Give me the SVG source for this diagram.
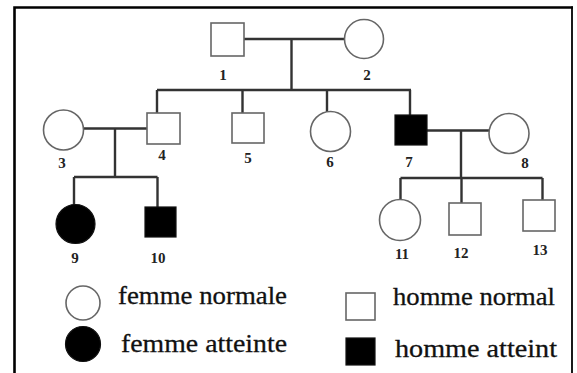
<svg xmlns="http://www.w3.org/2000/svg" width="577" height="373" viewBox="0 0 577 373">
<style>
.frame{stroke:#000;fill:none}
.sh{fill:#fff;stroke:#666;stroke-width:1.6}
.aff{fill:#000;stroke:#111;stroke-width:1.2}
.ln{stroke:#333;stroke-width:2.4;fill:none}
.lb{font-family:"Liberation Serif",serif;font-weight:bold;font-size:15px;fill:#222;text-anchor:middle}
.lg{font-family:"Liberation Serif",serif;font-size:26px;fill:#111;stroke:#111;stroke-width:0.3}
</style>
<rect width="577" height="373" fill="#fff"/>
<g id="frame">
<path class="frame" d="M14.5 373V7.5H573" stroke-width="2.6"/>
<path class="frame" d="M572 6.5V373" stroke-width="1.8"/>
</g>
<g id="connectors">
<path class="ln" d="M244 39H344M291.5 39V90M157 90H411M157 90V113M242.5 90V113M327 90V112M410 90V115"/>
<path class="ln" d="M83 128.5H147M115 128.5V177M74 177H157.5M74 177V205M157.5 177V207"/>
<path class="ln" d="M427 130.5H489M461 130.5V178M400.5 178H542.5M400.5 178V200M461.5 178V203M542.5 178V200"/>
</g>
<g id="n1"><rect class="sh" x="211" y="23" width="33" height="33"/><text class="lb" x="223" y="80">1</text></g>
<g id="n2"><circle class="sh" cx="364" cy="39" r="19.5"/><text class="lb" x="367" y="80">2</text></g>
<g id="n3"><circle class="sh" cx="63.5" cy="130" r="20"/><text class="lb" x="62" y="168">3</text></g>
<g id="n4"><rect class="sh" x="147" y="113" width="33" height="31"/><text class="lb" x="162" y="160">4</text></g>
<g id="n5"><rect class="sh" x="232" y="113" width="32" height="30"/><text class="lb" x="248" y="163">5</text></g>
<g id="n6"><circle class="sh" cx="330.5" cy="131.5" r="20"/><text class="lb" x="330" y="167">6</text></g>
<g id="n7"><rect class="aff" x="395" y="115" width="32" height="30"/><text class="lb" x="409" y="167">7</text></g>
<g id="n8"><circle class="sh" cx="509" cy="133.5" r="20"/><text class="lb" x="525" y="168">8</text></g>
<g id="n9"><circle class="aff" cx="75.5" cy="224" r="19.5"/><text class="lb" x="75" y="263">9</text></g>
<g id="n10"><rect class="aff" x="145" y="207" width="31" height="30"/><text class="lb" x="158" y="263">10</text></g>
<g id="n11"><circle class="sh" cx="400" cy="220" r="20.5"/><text class="lb" x="402" y="259">11</text></g>
<g id="n12"><rect class="sh" x="449" y="203" width="32" height="32"/><text class="lb" x="461" y="258">12</text></g>
<g id="n13"><rect class="sh" x="523" y="200" width="32" height="31"/><text class="lb" x="540" y="255">13</text></g>
<g id="legend">
<circle class="sh" cx="83" cy="303" r="17" stroke-width="2.4" stroke="#555"/>
<text class="lg" x="118" y="304" textLength="169" lengthAdjust="spacingAndGlyphs">femme normale</text>
<circle class="aff" cx="83" cy="344" r="17.5"/>
<text class="lg" x="121" y="352" textLength="166" lengthAdjust="spacingAndGlyphs">femme atteinte</text>
<rect class="sh" x="346" y="293" width="29" height="27"/>
<text class="lg" x="393" y="305" textLength="162" lengthAdjust="spacingAndGlyphs">homme normal</text>
<rect class="aff" x="346" y="338" width="29" height="27"/>
<text class="lg" x="395" y="357" textLength="162" lengthAdjust="spacingAndGlyphs">homme atteint</text>
</g>
</svg>
